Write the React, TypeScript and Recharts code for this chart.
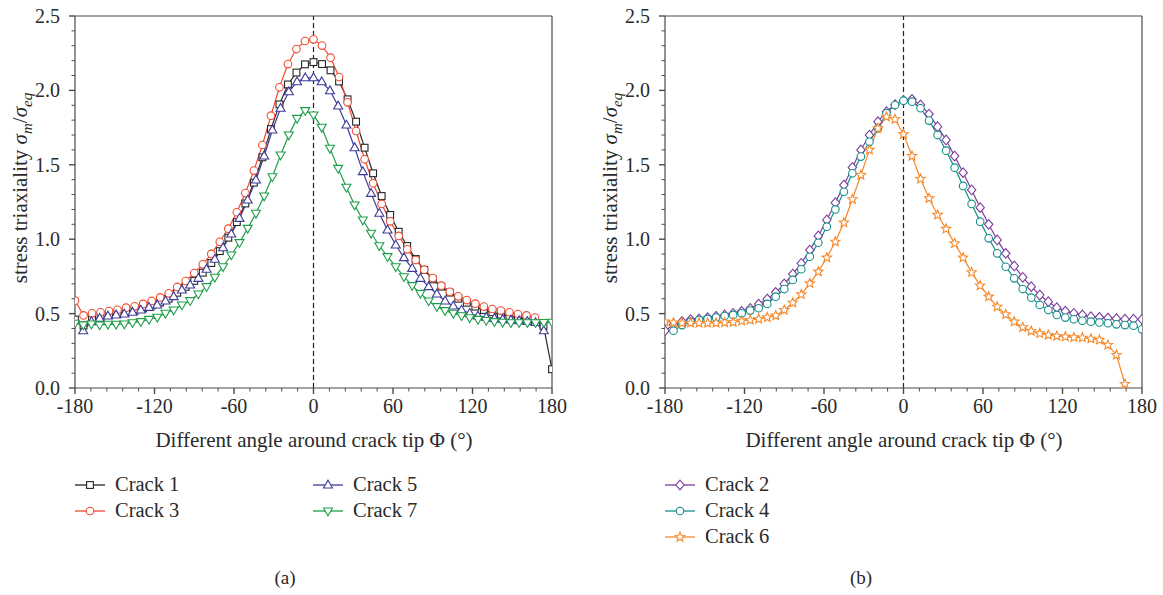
import React from 'react'
import { LineChart, Line, XAxis, YAxis, ReferenceLine } from 'recharts'

// angles of the two meshes (°)
const anglesA = [
  -180, -173.57, -167.14, -160.71, -154.29, -147.86, -141.43, -135, -128.57, -122.14,
  -115.71, -109.29, -102.86, -96.43, -90, -83.57, -77.14, -70.71, -64.29, -57.86,
  -51.43, -45, -38.57, -32.14, -25.71, -19.29, -12.86, -6.43, 0, 6.43,
  12.86, 19.29, 25.71, 32.14, 38.57, 45, 51.43, 57.86, 64.29, 70.71,
  77.14, 83.57, 90, 96.43, 102.86, 109.29, 115.71, 122.14, 128.57, 135,
  141.43, 147.86, 154.29, 160.71, 167.14, 173.57, 180,
]
const anglesB = [
  -180, -173.79, -167.59, -161.38, -155.17, -148.97, -142.76, -136.55, -130.34, -124.14,
  -117.93, -111.72, -105.52, -99.31, -93.1, -86.9, -80.69, -74.48, -68.28, -62.07,
  -55.86, -49.66, -43.45, -37.24, -31.03, -24.83, -18.62, -12.41, -6.21, 0,
  6.21, 12.41, 18.62, 24.83, 31.03, 37.24, 43.45, 49.66, 55.86, 62.07,
  68.28, 74.48, 80.69, 86.9, 93.1, 99.31, 105.52, 111.72, 117.93, 124.14,
  130.34, 136.55, 142.76, 148.97, 155.17, 161.38, 167.59, 173.79, 180,
]

// (a)
const crack1 = [
  0.46, 0.42, 0.46, 0.47, 0.49, 0.5, 0.51, 0.52, 0.535, 0.555,
  0.575, 0.6, 0.64, 0.68, 0.72, 0.775, 0.84, 0.92, 1.01, 1.115,
  1.24, 1.38, 1.55, 1.74, 1.906, 2.04, 2.12, 2.175, 2.19, 2.177,
  2.135, 2.06, 1.94, 1.79, 1.615, 1.443, 1.29, 1.163, 1.05, 0.954,
  0.867, 0.793, 0.73, 0.681, 0.641, 0.6, 0.573, 0.547, 0.524, 0.509,
  0.493, 0.484, 0.472, 0.462, 0.446, 0.417, 0.126,
]
const crack3 = [
  0.587, 0.488, 0.502, 0.509, 0.517, 0.526, 0.54, 0.549, 0.565, 0.585,
  0.609, 0.636, 0.679, 0.719, 0.773, 0.831, 0.901, 0.983, 1.071, 1.181,
  1.31, 1.461, 1.633, 1.83, 2.021, 2.177, 2.278, 2.332, 2.343, 2.301,
  2.22, 2.09, 1.92, 1.727, 1.537, 1.376, 1.237, 1.12, 1.022, 0.932,
  0.86, 0.795, 0.739, 0.688, 0.647, 0.616, 0.591, 0.567, 0.547, 0.531,
  0.52, 0.509, 0.497, 0.488, 0.473, null, null,
]
const crack5 = [
  null, 0.385, 0.446, 0.468, 0.484, 0.491, 0.497, 0.509, 0.524, 0.542,
  0.558, 0.585, 0.614, 0.659, 0.692, 0.737, 0.798, 0.865, 0.943, 1.035,
  1.14, 1.263, 1.398, 1.559, 1.734, 1.88, 1.991, 2.058, 2.085, 2.085,
  2.058, 1.998, 1.895, 1.767, 1.615, 1.454, 1.308, 1.174, 1.062, 0.961,
  0.876, 0.804, 0.737, 0.681, 0.632, 0.585, 0.551, 0.524, 0.502, 0.484,
  0.475, 0.468, 0.462, 0.457, 0.452, 0.447, 0.44, 0.385, null,
]
const crack7 = [
  0.435, 0.424, 0.43, 0.424, 0.428, 0.428, 0.43, 0.439, 0.446, 0.461,
  0.475, 0.502, 0.524, 0.558, 0.587, 0.632, 0.681, 0.744, 0.815, 0.894,
  0.977, 1.073, 1.174, 1.29, 1.42, 1.566, 1.7, 1.812, 1.864, 1.835,
  1.752, 1.611, 1.476, 1.349, 1.23, 1.129, 1.04, 0.956, 0.883, 0.815,
  0.748, 0.688, 0.636, 0.585, 0.547, 0.52, 0.502, 0.486, 0.472, 0.461,
  0.454, 0.446, 0.442, 0.439, 0.439, 0.439, 0.439, 0.44, 0.442,
]

// (b)
const crack2 = [
  0.385, 0.425, 0.447, 0.46, 0.464, 0.473, 0.482, 0.491, 0.502, 0.515,
  0.535, 0.564, 0.598, 0.643, 0.699, 0.766, 0.838, 0.927, 1.022, 1.129,
  1.245, 1.364, 1.482, 1.6, 1.7, 1.79, 1.857, 1.905, 1.932, 1.94,
  1.902, 1.841, 1.756, 1.667, 1.559, 1.447, 1.331, 1.212, 1.1, 0.995,
  0.905, 0.82, 0.744, 0.681, 0.625, 0.58, 0.54, 0.517, 0.502, 0.491,
  0.479, 0.475, 0.47, 0.466, 0.462, 0.462, 0.462,
]
const crack4 = [
  null, 0.385, 0.423, 0.446, 0.457, 0.464, 0.473, 0.484, 0.491, 0.502,
  0.52, 0.536, 0.565, 0.614, 0.665, 0.726, 0.798, 0.882, 0.976, 1.084,
  1.2, 1.319, 1.443, 1.555, 1.655, 1.745, 1.846, 1.902, 1.931, 1.924,
  1.88, 1.797, 1.7, 1.595, 1.481, 1.358, 1.237, 1.118, 1.006, 0.905,
  0.815, 0.737, 0.665, 0.607, 0.558, 0.524, 0.491, 0.473, 0.462, 0.452,
  0.446, 0.441, 0.435, 0.428, 0.423, 0.419, 0.394,
]
const crack6 = [
  0.446, 0.44, 0.437, 0.437, 0.437, 0.437, 0.437, 0.44, 0.442, 0.451,
  0.457, 0.464, 0.475, 0.487, 0.524, 0.573, 0.629, 0.703, 0.782, 0.876,
  0.983, 1.111, 1.268, 1.431, 1.6, 1.745, 1.823, 1.806, 1.705, 1.559,
  1.405, 1.275, 1.163, 1.069, 0.972, 0.876, 0.777, 0.688, 0.614, 0.546,
  0.495, 0.446, 0.408, 0.383, 0.367, 0.356, 0.349, 0.345, 0.34, 0.338,
  0.331, 0.323, 0.289, 0.222, 0.027, null, null,
]

const xTicks = [
  -180, -168, -156, -144, -132, -120, -108, -96, -84, -72, -60, -48, -36, -24, -12, 0,
  12, 24, 36, 48, 60, 72, 84, 96, 108, 120, 132, 144, 156, 168, 180,
]
const xLabels = [-180, -120, -60, 0, 60, 120, 180]
const yTicks = [
  0, 0.1, 0.2, 0.3, 0.4, 0.5, 0.6, 0.7, 0.8, 0.9, 1, 1.1, 1.2, 1.3, 1.4, 1.5, 1.6, 1.7,
  1.8, 1.9, 2, 2.1, 2.2, 2.3, 2.4, 2.5,
]
const yLabels = [0, 0.5, 1, 1.5, 2, 2.5]

const FONT = '"Liberation Serif", "Times New Roman", serif'
const AXIS = '#4a4a4a'
const TEXT = '#2a2a2a'

type MarkerKind = 'square' | 'circle' | 'up' | 'down' | 'diamond' | 'star'

interface Series {
  name: string
  xs: number[]
  ys: (number | null)[]
  color: string
  marker: MarkerKind
}

const leftSeries: Series[] = [
  { name: 'Crack 1', xs: anglesA, ys: crack1, color: '#262626', marker: 'square' },
  { name: 'Crack 3', xs: anglesA, ys: crack3, color: '#F04B30', marker: 'circle' },
  { name: 'Crack 5', xs: anglesB, ys: crack5, color: '#3D3A98', marker: 'up' },
  { name: 'Crack 7', xs: anglesB, ys: crack7, color: '#1E9E4A', marker: 'down' },
]
const rightSeries: Series[] = [
  { name: 'Crack 2', xs: anglesA, ys: crack2, color: '#7B3D9C', marker: 'diamond' },
  { name: 'Crack 4', xs: anglesA, ys: crack4, color: '#159089', marker: 'circle' },
  { name: 'Crack 6', xs: anglesA, ys: crack6, color: '#F6882A', marker: 'star' },
]

function Marker({ kind, cx, cy, color }: { kind: MarkerKind; cx: number; cy: number; color: string }) {
  const common = { fill: '#fff', stroke: color, strokeWidth: 1.1 }
  switch (kind) {
    case 'square':
      return <rect x={cx - 3.4} y={cy - 3.4} width={6.8} height={6.8} {...common} />
    case 'circle':
      return <circle cx={cx} cy={cy} r={3.8} {...common} />
    case 'up':
      return <polygon points={`${cx},${cy - 4.8} ${cx + 4.5},${cy + 3} ${cx - 4.5},${cy + 3}`} {...common} />
    case 'down':
      return <polygon points={`${cx},${cy + 4.8} ${cx + 4.5},${cy - 3} ${cx - 4.5},${cy - 3}`} {...common} />
    case 'diamond':
      return <polygon points={`${cx},${cy - 4.8} ${cx + 4.2},${cy} ${cx},${cy + 4.8} ${cx - 4.2},${cy}`} {...common} />
    case 'star': {
      const pts: string[] = []
      for (let k = 0; k < 10; k++) {
        const r = k % 2 === 0 ? 4.9 : 2.2
        const a = -Math.PI / 2 + (k * Math.PI) / 5
        pts.push(`${cx + r * Math.cos(a)},${cy + r * Math.sin(a)}`)
      }
      return <polygon points={pts.join(' ')} {...common} />
    }
  }
  return null
}

function makeDot(kind: MarkerKind, color: string) {
  return (props: any) => {
    const { cx, cy, index, payload } = props
    if (payload == null || payload.y == null || cx == null || cy == null) return <g key={index} />
    return (
      <g key={index}>
        <Marker kind={kind} cx={cx} cy={cy} color={color} />
      </g>
    )
  }
}

function XTick(props: any) {
  const { x, y, payload } = props
  const major = xLabels.includes(payload.value)
  return (
    <g>
      <line x1={x} x2={x} y1={y} y2={y + (major ? 6 : 3.5)} stroke={AXIS} strokeWidth={major ? 1.4 : 1} />
      {major && (
        <text x={x} y={y + 25} textAnchor="middle" fontFamily={FONT} fontSize={20} fill={TEXT}>
          {payload.value}
        </text>
      )}
    </g>
  )
}

function YTick(props: any) {
  const { x, y, payload } = props
  const major = yLabels.some(v => Math.abs(v - payload.value) < 1e-6)
  return (
    <g>
      <line x1={x} x2={x - (major ? 6 : 3.5)} y1={y} y2={y} stroke={AXIS} strokeWidth={major ? 1.4 : 1} />
      {major && (
        <text x={x - 15} y={y + 7} textAnchor="end" fontFamily={FONT} fontSize={20} fill={TEXT}>
          {payload.value.toFixed(1)}
        </text>
      )}
    </g>
  )
}

function Panel({ series, left }: { series: Series[]; left: number }) {
  return (
    <div style={{ position: 'absolute', left, top: 0 }}>
      <LineChart width={580} height={460} margin={{ top: 16, right: 28, bottom: 42, left: 30 }}>
        <XAxis
          dataKey="x"
          type="number"
          domain={[-180, 180]}
          ticks={xTicks}
          interval={0}
          tickSize={0}
          tickMargin={0}
          tickLine={false}
          tick={(p: any) => <XTick {...p} />}
          axisLine={{ stroke: AXIS, strokeWidth: 1.2 }}
          height={30}
          allowDataOverflow
        />
        <YAxis
          type="number"
          domain={[0, 2.5]}
          ticks={yTicks}
          interval={0}
          tickSize={0}
          tickMargin={0}
          tickLine={false}
          tick={(p: any) => <YTick {...p} />}
          axisLine={{ stroke: AXIS, strokeWidth: 1.2 }}
          width={45}
          allowDataOverflow
        />
        <ReferenceLine y={2.5} stroke={AXIS} strokeWidth={1.2} />
        <ReferenceLine x={180} stroke={AXIS} strokeWidth={1.2} />
        <ReferenceLine x={0} stroke="#222" strokeWidth={1.2} strokeDasharray="5 3" />
        {series.map(s => (
          <Line
            key={s.name}
            data={s.xs.map((x, i) => ({ x, y: s.ys[i] }))}
            dataKey="y"
            type="linear"
            stroke={s.color}
            strokeWidth={1.2}
            dot={makeDot(s.marker, s.color)}
            activeDot={false}
            isAnimationActive={false}
          />
        ))}
      </LineChart>
    </div>
  )
}

function LegendItem({ s, x, y }: { s: Series; x: number; y: number }) {
  return (
    <g>
      <line x1={x} x2={x + 30} y1={y} y2={y} stroke={s.color} strokeWidth={1.3} />
      <Marker kind={s.marker} cx={x + 15} cy={y} color={s.color} />
      <text x={x + 40} y={y + 6} fontFamily={FONT} fontSize={20.5} fill={TEXT}>
        {s.name}
      </text>
    </g>
  )
}

function YTitle({ x, y }: { x: number; y: number }) {
  return (
    <text transform={`translate(${x},${y}) rotate(-90)`} textAnchor="middle" fontFamily={FONT} fontSize={21} fill={TEXT}>
      stress triaxiality <tspan fontStyle="italic">σ</tspan>
      <tspan fontStyle="italic" fontSize={15} dy={5}>m</tspan>
      <tspan dy={-5}>/</tspan>
      <tspan fontStyle="italic">σ</tspan>
      <tspan fontStyle="italic" fontSize={15} dy={5}>eq</tspan>
    </text>
  )
}

export default function App() {
  return (
    <div style={{ position: 'absolute', left: 0, top: 0, width: 1163, height: 595, background: '#fff' }}>
      <Panel series={leftSeries} left={0} />
      <Panel series={rightSeries} left={590} />
      <svg width={1163} height={595} style={{ position: 'absolute', left: 0, top: 0, pointerEvents: 'none' }}>
        <YTitle x={27} y={188} />
        <YTitle x={617} y={188} />
        <text x={314} y={447} textAnchor="middle" fontFamily={FONT} fontSize={21} fill={TEXT}>
          Different angle around crack tip Φ (°)
        </text>
        <text x={904} y={447} textAnchor="middle" fontFamily={FONT} fontSize={21} fill={TEXT}>
          Different angle around crack tip Φ (°)
        </text>
        <LegendItem s={leftSeries[0]} x={75} y={485} />
        <LegendItem s={leftSeries[1]} x={75} y={511} />
        <LegendItem s={leftSeries[2]} x={313} y={485} />
        <LegendItem s={leftSeries[3]} x={313} y={511} />
        <LegendItem s={rightSeries[0]} x={665} y={485} />
        <LegendItem s={rightSeries[1]} x={665} y={511} />
        <LegendItem s={rightSeries[2]} x={665} y={537} />
        <text x={285} y={584} textAnchor="middle" fontFamily={FONT} fontSize={19} fill={TEXT}>(a)</text>
        <text x={861} y={584} textAnchor="middle" fontFamily={FONT} fontSize={19} fill={TEXT}>(b)</text>
      </svg>
    </div>
  )
}
